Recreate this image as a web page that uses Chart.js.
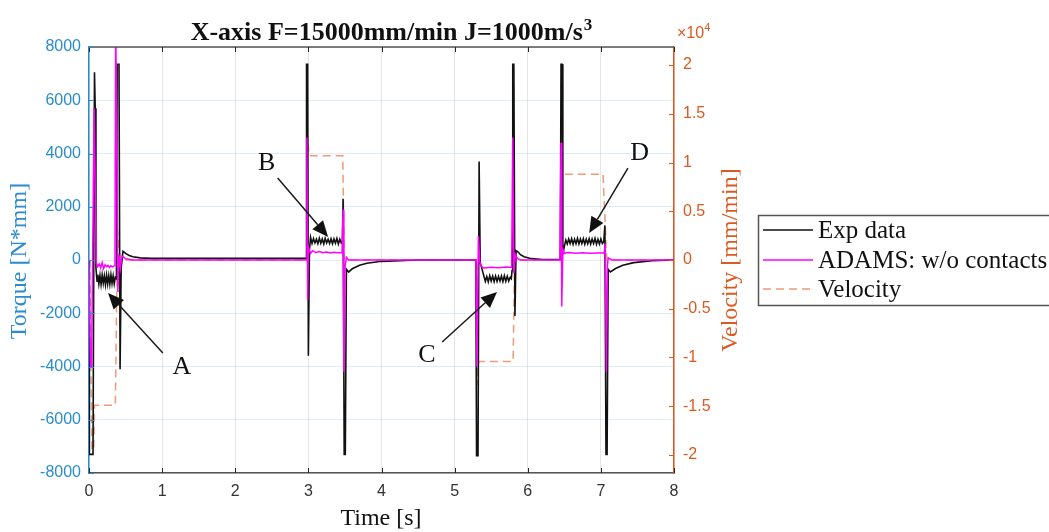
<!DOCTYPE html>
<html>
<head>
<meta charset="utf-8">
<script src="https://cdn.jsdelivr.net/npm/chart.js@4.4.1/dist/chart.umd.min.js"></script>
<style>
  html, body { margin: 0; padding: 0; background: #fff; }
  #wrap { width: 1049px; height: 532px; }
</style>
</head>
<body>
<div id="wrap"><canvas id="myChart" width="1049" height="532"></canvas></div>
<script>
// Exp data (black), time [s] / torque [N*mm]
const expTime = [
  0, 0.005, 0.055, 0.075, 0.085, 0.095, 0.11,
  0.12, 0.135, 0.15, 0.165, 0.18, 0.195, 0.21, 0.225, 0.24, 0.255, 0.27, 0.285, 0.3, 0.315, 0.33, 0.345, 0.36,
  0.375, 0.385, 0.41, 0.425, 0.44, 0.465, 0.5, 0.55, 0.6, 0.7, 0.85, 2.97,
  2.975, 2.99, 3.0, 3.015, 3.03,
  3.05, 3.07, 3.09, 3.11, 3.13, 3.15, 3.17, 3.19, 3.21, 3.23, 3.25, 3.27, 3.29, 3.31, 3.33, 3.35, 3.37, 3.39, 3.41, 3.43, 3.45,
  3.465, 3.475, 3.49, 3.505, 3.52, 3.55, 3.6, 3.7, 3.8, 4.0, 4.5, 5.29,
  5.3, 5.32, 5.335, 5.35, 5.38,
  5.4, 5.42, 5.44, 5.46, 5.48, 5.5, 5.52, 5.54, 5.56, 5.58, 5.6, 5.62, 5.64, 5.66, 5.68, 5.7, 5.72, 5.74, 5.76,
  5.775, 5.785, 5.795, 5.81, 5.825, 5.84, 5.87, 5.9, 5.95, 6.05, 6.2, 6.445,
  6.455, 6.47, 6.48, 6.5, 6.52,
  6.54, 6.56, 6.58, 6.6, 6.62, 6.64, 6.66, 6.68, 6.7, 6.72, 6.74, 6.76, 6.78, 6.8, 6.82, 6.84, 6.86, 6.88, 6.9, 6.92, 6.94, 6.96, 6.98, 7.0, 7.02,
  7.04, 7.055, 7.07, 7.085, 7.1, 7.13, 7.2, 7.3, 7.45, 7.7, 8.0];
const expTorque = [
  0, -7300, -7300, 7050, 5700, -300, -800,
  -550, -900, -580, -920, -560, -880, -600, -930, -570, -900, -590, -910, -560, -880, -600, -900, -650,
  -700, 7350, 7350, -4100, -300, 330, 250, 170, 120, 80, 60, 60,
  7350, 7350, -3600, 400, 850,
  620, 800, 640, 780, 610, 820, 630, 790, 600, 810, 640, 780, 620, 800, 610, 790, 630, 810, 600, 780, 640,
  700, 2300, -7300, -7300, -350, -450, -330, -200, -120, -50, 0, 0,
  -7350, -7350, 3700, -100, -400,
  -600, -800, -620, -820, -590, -790, -610, -810, -600, -800, -620, -790, -600, -810, -590, -800, -610, -790, -650,
  -700, -400, 7350, 7350, -2100, 350, 300, 200, 120, 50, 20, 20,
  7350, 7350, 200, 500, 750,
  600, 790, 620, 800, 590, 780, 610, 810, 600, 790, 620, 800, 590, 780, 610, 800, 600, 790, 620, 810, 590, 780, 600, 790, 620,
  700, 1300, -7300, -7300, -350, -450, -320, -200, -100, -30, 0];

// ADAMS: w/o contacts (magenta)
const adamsTime = [0, 0.02, 0.035, 0.07, 0.1, 0.12,
  0.14, 0.16, 0.18, 0.2, 0.22, 0.24, 0.26, 0.28, 0.3, 0.32, 0.34, 0.355,
  0.365, 0.38, 0.395, 0.41, 0.43, 0.45, 0.5, 0.6, 2.97,
  2.98, 2.99, 3.0, 3.015, 3.03,
  3.06, 3.1, 3.15, 3.2, 3.25, 3.3, 3.35, 3.4, 3.46,
  3.475, 3.485, 3.5, 3.52, 3.55, 5.29,
  5.305, 5.325, 5.345, 5.37, 5.4, 5.5, 5.6, 5.7, 5.78,
  5.795, 5.81, 5.83, 5.86, 5.9, 6.44,
  6.455, 6.465, 6.48, 6.5, 6.55, 6.65, 6.75, 6.85, 6.95, 7.045,
  7.06, 7.075, 7.09, 7.1, 7.15, 8.0];
const adamsTorque = [0, -4000, -4000, 5700, -100, -250,
  -150, -300, -100, -320, -180, -250, -200, -280, -220, -260, -230, -200,
  9000, 4000, -1200, 200, -300, 150, 50, 0, 0,
  4600, -1500, 500, 350, 250,
  350, 280, 320, 270, 300, 260, 290, 270, 280,
  1900, -4200, -300, 100, 0, 0,
  -4000, 900, -100, -250, -300, -270, -290, -260, -280,
  4600, -500, 200, 50, 0, 0,
  4400, -1750, 400, 250, 280, 250, 270, 250, 260, 260,
  600, -4200, -200, 80, 0, 0];

// Velocity [mm/min] (orange dashed, right axis)
const velTime = [0, 0.01, 0.04, 0.065, 0.075, 0.36, 0.39, 0.42, 2.975,
  2.99, 3.01, 3.47, 3.49, 5.3,
  5.31, 5.33, 5.8, 5.82, 6.46,
  6.47, 7.03, 7.08, 8.0];
const velocity = [0, 0, -19500, -19500, -14900, -14900, 3000, 0, 0,
  12700, 10700, 10700, 0, 0,
  -12800, -10400, -10400, 0, 0,
  8800, 8800, 0, 0];

const timeTicks = [0, 1, 2, 3, 4, 5, 6, 7, 8];
const torqueTicks = [-8000, -6000, -4000, -2000, 0, 2000, 4000, 6000, 8000];
const velocityTicks = [-20000, -15000, -10000, -5000, 0, 5000, 10000, 15000, 20000];

// Annotation arrows, in data units (time, torque)
const notes = [
  { text: 'A', tip: [0.26, -1240], tail: [1.01, -3490], label: [1.27, -4020] },
  { text: 'B', tip: [3.27, 865], tail: [2.58, 3080], label: [2.43, 3640] },
  { text: 'C', tip: [5.58, -1200], tail: [4.83, -3080], label: [4.62, -3570] },
  { text: 'D', tip: [6.84, 1010], tail: [7.37, 3455], label: [7.53, 4020] }
];

const BLUE = '#2a8ccf';
const ORANGE = '#dc5a22';
const DARK = '#262626';
const SERIF = '"Liberation Serif", "Times New Roman", serif';
const SANS = '"Liberation Sans", Arial, sans-serif';

function toPoints(xs, ys) {
  return xs.map((x, i) => ({ x: x, y: ys[i] }));
}

function arrow(ctx, x1, y1, x2, y2) {
  const ang = Math.atan2(y2 - y1, x2 - x1);
  const len = 16, half = 7;
  const bx = x2 - len * Math.cos(ang), by = y2 - len * Math.sin(ang);
  ctx.beginPath();
  ctx.moveTo(x1, y1);
  ctx.lineTo(bx, by);
  ctx.stroke();
  ctx.beginPath();
  ctx.moveTo(x2, y2);
  ctx.lineTo(bx + half * Math.sin(ang), by - half * Math.cos(ang));
  ctx.lineTo(bx - half * Math.sin(ang), by + half * Math.cos(ang));
  ctx.closePath();
  ctx.fill();
}

// ticks inside the box, frame, titles, legend and annotations
const decorations = {
  id: 'decorations',
  afterDatasetsDraw(chart) {
    const { ctx, chartArea: a, scales } = chart;
    const x = scales.x, y = scales.y, y1 = scales.y1;
    ctx.save();

    // top frame line
    ctx.strokeStyle = '#555';
    ctx.lineWidth = 1.5;
    ctx.beginPath();
    ctx.moveTo(a.left, a.top);
    ctx.lineTo(a.right, a.top);
    ctx.stroke();

    // inward tick marks
    ctx.lineWidth = 1;
    ctx.strokeStyle = DARK;
    timeTicks.forEach(t => {
      const px = Math.round(x.getPixelForValue(t)) + 0.5;
      ctx.beginPath();
      ctx.moveTo(px, a.bottom); ctx.lineTo(px, a.bottom - 5);
      ctx.moveTo(px, a.top); ctx.lineTo(px, a.top + 5);
      ctx.stroke();
    });
    ctx.strokeStyle = BLUE;
    torqueTicks.forEach(v => {
      const py = Math.round(y.getPixelForValue(v)) + 0.5;
      ctx.beginPath(); ctx.moveTo(a.left, py); ctx.lineTo(a.left + 5, py); ctx.stroke();
    });
    ctx.strokeStyle = ORANGE;
    velocityTicks.forEach(v => {
      const py = Math.round(y1.getPixelForValue(v)) + 0.5;
      ctx.beginPath(); ctx.moveTo(a.right, py); ctx.lineTo(a.right - 5, py); ctx.stroke();
    });

    // annotations
    ctx.strokeStyle = '#1a1a1a';
    ctx.fillStyle = '#111';
    ctx.lineWidth = 1.5;
    notes.forEach(n => {
      arrow(ctx, x.getPixelForValue(n.tail[0]), y.getPixelForValue(n.tail[1]),
        x.getPixelForValue(n.tip[0]), y.getPixelForValue(n.tip[1]));
      ctx.font = '26px ' + SERIF;
      ctx.textAlign = 'center';
      ctx.textBaseline = 'middle';
      ctx.fillText(n.text, x.getPixelForValue(n.label[0]), y.getPixelForValue(n.label[1]));
    });

    // title with superscript
    const main = 'X-axis F=15000mm/min J=1000m/s';
    ctx.fillStyle = '#111';
    ctx.textBaseline = 'alphabetic';
    ctx.textAlign = 'left';
    ctx.font = 'bold 26px ' + SERIF;
    const w1 = ctx.measureText(main).width;
    ctx.font = 'bold 17px ' + SERIF;
    const w2 = ctx.measureText('3').width;
    const tx = 391 - (w1 + w2) / 2;
    ctx.font = 'bold 26px ' + SERIF;
    ctx.fillText(main, tx, 40);
    ctx.font = 'bold 17px ' + SERIF;
    ctx.fillText('3', tx + w1 + 1, 30);

    // exponent of right axis
    ctx.fillStyle = ORANGE;
    ctx.font = '16px ' + SANS;
    ctx.fillText('\u00d710', a.right + 3, 38);
    const we = ctx.measureText('\u00d710').width;
    ctx.font = '11px ' + SANS;
    ctx.fillText('4', a.right + 3 + we, 31);

    // axis titles
    ctx.textAlign = 'center';
    ctx.textBaseline = 'middle';
    ctx.font = '24px ' + SERIF;
    ctx.fillStyle = '#111';
    ctx.fillText('Time [s]', 381, 519);
    ctx.save();
    ctx.translate(20, 261);
    ctx.rotate(-Math.PI / 2);
    ctx.fillStyle = BLUE;
    ctx.fillText('Torque [N*mm]', 0, 0);
    ctx.restore();
    ctx.save();
    ctx.translate(731, 260);
    ctx.rotate(-Math.PI / 2);
    ctx.fillStyle = ORANGE;
    ctx.fillText('Velocity [mm/min]', 0, 0);
    ctx.restore();

    // legend box
    ctx.fillStyle = '#fff';
    ctx.fillRect(758, 215, 300, 90);
    ctx.strokeStyle = '#555';
    ctx.lineWidth = 1.5;
    ctx.strokeRect(758.5, 215.5, 300, 90);
    ctx.font = '25px ' + SERIF;
    ctx.textAlign = 'left';
    chart.data.datasets.forEach((ds, i) => {
      const ry = Math.round(230 + i * 29.5);
      ctx.strokeStyle = ds.borderColor;
      ctx.lineWidth = 1.5;
      ctx.setLineDash(ds.borderDash || []);
      ctx.beginPath(); ctx.moveTo(763, ry); ctx.lineTo(813, ry); ctx.stroke();
      ctx.setLineDash([]);
      ctx.fillStyle = '#111';
      ctx.fillText(ds.label, 818, ry + 1);
    });

    ctx.restore();
  }
};

const data = {
  datasets: [
    {
      label: 'Exp data',
      data: toPoints(expTime, expTorque),
      borderColor: '#111',
      borderWidth: 1.6,
      yAxisID: 'y',
      order: 2
    },
    {
      label: 'ADAMS: w/o contacts',
      data: toPoints(adamsTime, adamsTorque),
      borderColor: '#ff00ff',
      borderWidth: 1.5,
      yAxisID: 'y',
      order: 1
    },
    {
      label: 'Velocity',
      data: toPoints(velTime, velocity),
      borderColor: '#ef9a78',
      borderWidth: 1.5,
      borderDash: [8, 5],
      yAxisID: 'y1',
      order: 3
    }
  ]
};

const options = {
  responsive: false,
  animation: false,
  events: [],
  layout: { padding: { left: 0, right: 0, top: 47, bottom: 0 } },
  elements: { point: { radius: 0 }, line: { tension: 0 } },
  plugins: { legend: { display: false }, tooltip: { enabled: false } },
  scales: {
    x: {
      type: 'linear',
      min: 0, max: 8,
      afterFit: s => { s.height = 59; },
      afterBuildTicks: s => { s.ticks = timeTicks.map(v => ({ value: v })); },
      ticks: { color: '#333', font: { family: SANS, size: 16 }, padding: 9, maxRotation: 0,
        callback: v => String(v) },
      grid: { color: 'rgba(0,0,0,0.10)', drawTicks: false },
      border: { color: '#555', width: 1.5 }
    },
    y: {
      position: 'left',
      min: -8000, max: 8000,
      afterFit: s => { s.width = 89; },
      afterBuildTicks: s => { s.ticks = torqueTicks.map(v => ({ value: v })); },
      ticks: { color: BLUE, font: { family: SANS, size: 16 }, padding: 8,
        callback: v => String(v) },
      grid: { color: 'rgba(0,114,189,0.13)', drawTicks: false },
      border: { color: BLUE, width: 1.5 }
    },
    y1: {
      position: 'right',
      min: -21850, max: 21850,
      afterFit: s => { s.width = 375; },
      afterBuildTicks: s => { s.ticks = velocityTicks.map(v => ({ value: v })); },
      ticks: { color: ORANGE, font: { family: SANS, size: 16 }, padding: 9,
        callback: v => String(v / 10000) },
      grid: { display: false, drawTicks: false },
      border: { color: ORANGE, width: 1.5 }
    }
  }
};

const ctx = document.getElementById('myChart').getContext('2d');
const myChart = new Chart(ctx, {
  type: 'line',
  data: data,
  options: options,
  plugins: [decorations]
});
</script>
</body>
</html>
